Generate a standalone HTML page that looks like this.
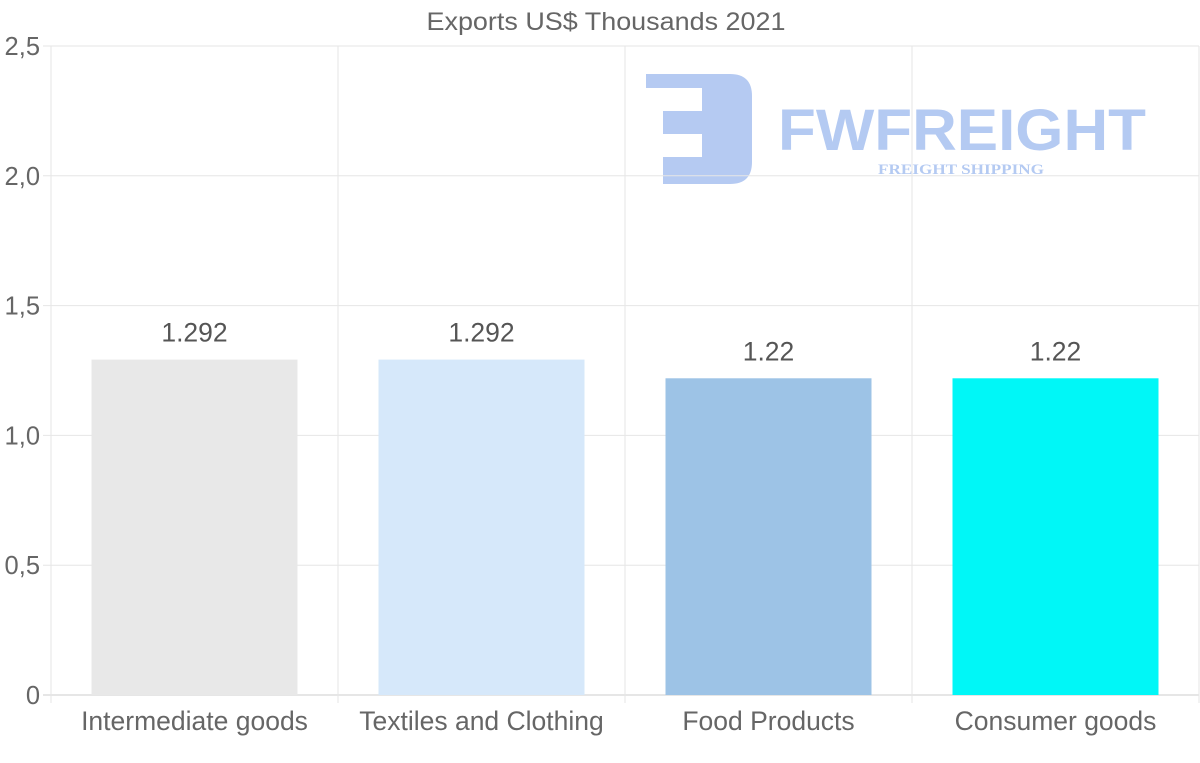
<!DOCTYPE html>
<html><head><meta charset="utf-8"><style>
html,body{margin:0;padding:0;background:#fff;}
svg{display:block;font-family:"Liberation Sans",sans-serif;}
</style></head><body>
<svg id="chart" width="1200" height="763">
<text x="606" y="30" text-anchor="middle" font-size="25" fill="#666" textLength="359" lengthAdjust="spacingAndGlyphs">Exports US$ Thousands 2021</text>
<g opacity="0.55">
<path d="M646 74 H730 Q752 74 752 96 V162 Q752 184 730 184 H663 V157 H702 V134 H663 V111 H702 V88 H646 Z" fill="#789fe8"/>
<text x="778" y="150" font-size="58" font-weight="bold" fill="#789fe8" textLength="368" lengthAdjust="spacingAndGlyphs">FWFREIGHT</text>
<text x="878" y="174" font-size="15" font-weight="bold" fill="#789fe8" font-family="Liberation Serif,serif" textLength="166" lengthAdjust="spacingAndGlyphs">FREIGHT SHIPPING</text>
</g>
<g id="grid"></g><g id="bars"></g><g id="labels"></g>
</svg>
<script>
const categories=["Intermediate goods","Textiles and Clothing","Food Products","Consumer goods"];
const values=[1.292,1.292,1.22,1.22];
const valueLabels=["1.292","1.292","1.22","1.22"];
const yTicks=[0,0.5,1.0,1.5,2.0,2.5];
const yTickLabels=["0","0,5","1,0","1,5","2,0","2,5"];
const colors=["#e8e8e8","#d6e8fa","#9dc3e6","#00f7f7"];
const L=51,R=1199,T=46,B=695,yMax=2.5;
const NS="http://www.w3.org/2000/svg";
const y=v=>B-(v/yMax)*(B-T);
const bw=(R-L)/categories.length;
const x=i=>L+bw*i;
function mk(tag,attrs,parent){const e=document.createElementNS(NS,tag);for(const k in attrs)e.setAttribute(k,attrs[k]);document.getElementById(parent).appendChild(e);return e;}
yTicks.forEach((t,i)=>{
 const g=mk('line',{x1:L-8,x2:R,y1:y(t),y2:y(t),stroke:i===0?'#ccc':'#e6e6e6','stroke-width':1},'grid');
 
 
 const tx=mk('text',{x:40,y:y(t)+9,'text-anchor':'end','font-size':25.5,fill:'#666'},'labels');
 tx.textContent=yTickLabels[i];
 
 
});
for(let i=0;i<=categories.length;i++){
 const g=mk('line',{x1:x(i),x2:x(i),y1:T,y2:B+8,stroke:'#e6e6e6','stroke-width':1},'grid');
 
 
}
categories.forEach((c,i)=>{
 const cx=x(i)+bw/2,w=206;
 const r=mk('rect',{x:cx-w/2,y:y(values[i]),width:w,height:B-y(values[i]),fill:colors[i]},'bars');
 
 
 const v=mk('text',{x:cx,y:y(values[i])-18,'text-anchor':'middle','font-size':26.5,fill:'#555'},'labels');
 v.textContent=valueLabels[i];
 
 
 const t=mk('text',{x:cx,y:730,'text-anchor':'middle','font-size':26.5,fill:'#666'},'labels');
 t.textContent=c;
 
 
});
</script>
</body></html>
